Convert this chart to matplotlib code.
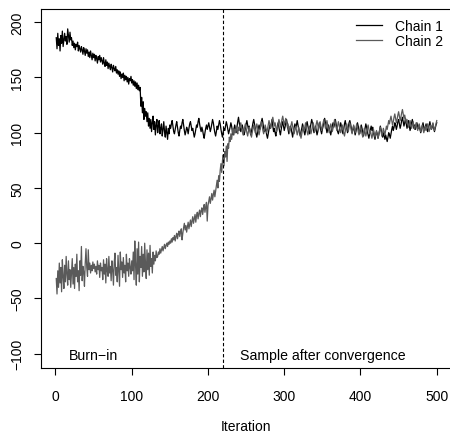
import numpy as np
import matplotlib
matplotlib.use("Agg")
import matplotlib.pyplot as plt

plt.rcParams["font.family"] = ["Liberation Sans", "DejaVu Sans"]

# trace values (iterations 1..500)
chain1 = [
    186, 176, 190, 179, 185, 174, 188, 181, 192, 178, 184, 190, 183, 187, 180, 194, 188, 182, 191, 184,
    186, 179, 183, 177, 181, 175, 180, 178, 182, 174, 179, 176, 173, 178, 175, 171, 177, 174, 170, 176,
    172, 175, 169, 173, 168, 174, 170, 166, 172, 168, 171, 165, 170, 167, 163, 169, 166, 170, 164, 168,
    165, 162, 168, 163, 160, 166, 161, 164, 158, 163, 160, 157, 162, 159, 155, 161, 158, 156, 160, 154,
    157, 153, 156, 151, 155, 149, 153, 150, 154, 147, 152, 148, 151, 146, 150, 144, 149, 147, 151, 145,
    148, 143, 147, 142, 146, 140, 145, 139, 143, 138, 141, 124, 132, 118, 128, 112, 122, 115, 119, 110,
    118, 106, 113, 104, 112, 101, 109, 115, 103, 110, 98, 107, 112, 100, 106, 111, 99, 104, 108, 97,
    103, 110, 101, 96, 106, 100, 94, 104, 99, 107,
    104, 108, 111, 106, 101, 99, 103, 107, 110, 105, 100, 97, 102, 106, 104, 109, 112, 107, 102, 98, 101, 105, 103, 99, 104,
    108, 110, 106, 102, 104, 100, 96, 99, 103, 107, 105, 110, 113, 108, 104, 101, 105, 102, 98, 95, 100, 104, 107, 103, 106,
    109, 105, 101, 104, 108, 112, 109, 104, 100, 97, 101, 106, 103, 107, 111, 108, 103, 99, 96, 101, 104, 102, 106, 110, 107,
    103, 99, 102, 105, 109, 106, 101, 98, 103, 107, 104, 100, 105, 110, 114, 109, 105, 101, 104, 107, 103, 98, 100, 104, 108,
    111, 107, 103, 106, 102, 98, 101, 105, 109, 112, 108, 104, 99, 96, 100, 104, 107, 103, 106, 110, 113, 109, 104, 101, 105,
    102, 98, 95, 99, 103, 107, 104, 108, 112, 106, 101, 104, 100, 97, 102, 106, 109, 105, 101, 98, 103, 107, 110, 106, 102,
    105, 109, 112, 108, 103, 99, 102, 106, 104, 100, 96, 101, 105, 108, 104, 107, 111, 107, 103, 100, 97, 101, 104, 108, 105,
    101, 98, 102, 107, 110, 106, 103, 99, 104, 108, 112, 109, 104, 100, 103, 106, 102, 98, 101, 105, 109, 106, 102, 99, 103,
    106, 110, 113, 109, 104, 100, 103, 107, 104, 101, 98, 102, 106, 109, 105, 108, 112, 108, 104, 101, 99, 102, 105, 109, 106,
    102, 99, 103, 108, 111, 107, 104, 100, 105, 109, 111, 108, 104, 100, 103, 106, 102, 98, 101, 105, 109, 106, 102, 99, 103,
    107, 104, 100, 97, 101, 104, 108, 105, 101, 98, 95, 99, 103, 106, 102, 105, 100, 97, 94, 98, 101, 99, 95, 98, 102,
    106, 103, 99, 96, 100, 97, 94, 98, 95, 92, 96, 100, 98, 95, 99, 103, 106, 102, 105, 109, 107, 103, 106, 110, 112,
    108, 104, 107, 111, 114, 110, 106, 109, 113, 108, 104, 107, 111, 106, 102, 105, 109, 112, 108, 104, 107, 103, 106, 109, 105,
    104, 107, 103, 100, 103, 106, 109, 105, 102, 105, 108, 104, 101, 104, 107, 110, 106, 103, 105, 108, 104, 101, 104, 107, 109,
]

chain2 = [
    -32, -46, -25, -40, -18, -36, -22, -44, -15, -30, -41, -20, -35, -12, -28, -38, -16, -33, -24, -40,
    -27, -14, -37, -22, -41, -19, -30, -10, -35, -25, -43, -16, -29, -3, -34, -21, -26, -39, -18, -5,
    -22, -30, -6, -24, -18, -27, -20, -25, -17, -23, -19, -26, -21, -28, -16, -24, -20, -31, -18, -25,
    -22, -33, -15, -28, -19, -36, -14, -25, -30, -12, -27, -21, -34, -16, -24, -38, -18, -9, -29, -22,
    -35, -11, -26, -39, -8, -24, -17, -31, -13, -27, -20, -35, -10, -25, -18, -30, -14, -22, -28, -16,
    -25, -8, -33, 2, -20, -38, -5, -28, 1, -35, -12, -22, -3, -30, -10, -26, 0, -18, -32, -6,
    -24, -9, -29, -2, -21, -14, -27, -8, -19, -11, -16, -7, -13,
    -12, -8, -10, -5, -9, -6, -3, -7, -4, -1, -5, -2, 0, -3, 1, -1, 2,
    0, 4, 1, 5, 3, 7, 2, 6, 9, 4, 8, 11, 6, 10, 13, 3, 9, 14, 18, 12,
    16, 10, 15, 19, 13, 17, 21, 15, 20, 24, 18, 22, 26, 19, 25, 28, 22, 27, 30, 24,
    29, 32, 26, 31, 35, 28, 33, 37, 20, 34, 38, 42, 36, 40, 45, 39, 44, 48, 42, 47,
    52, 57, 50, 61, 56, 66, 72, 64, 75, 80, 70, 83, 78, 88, 74,
    90, 86, 96, 92, 99, 94, 101, 104, 98, 103, 100, 106, 102, 99, 105,
    102, 106, 109, 105, 101, 98, 102, 105, 108, 104, 100, 97, 101, 105, 103, 99, 96, 100, 104, 107,
    103, 100, 104, 108, 105, 101, 98, 102, 106, 110, 106, 102, 99, 103, 107, 104, 100, 103, 107, 111,
    108, 104, 107, 111, 114, 110, 106, 109, 105, 101, 104, 108, 112, 109, 105, 108, 112, 115, 111, 107,
    110, 113, 109, 105, 108, 104, 100, 103, 107, 110, 106, 102, 99, 103, 106, 102, 98, 101, 105, 102,
    98, 95, 99, 103, 106, 102, 105, 109, 105, 101, 98, 102, 106, 103, 99, 102, 106, 109, 105, 101,
    104, 108, 111, 107, 103, 106, 110, 106, 102, 105, 109, 112, 108, 104, 107, 111, 107, 103, 100, 104,
    108, 105, 101, 104, 108, 112, 109, 105, 102, 106, 110, 107, 103, 100, 103, 107, 104, 100, 97, 101,
    105, 108, 104, 101, 105, 109, 106, 102, 99, 103, 107, 104, 100, 104, 108, 105, 101, 98, 102, 106,
    103, 99, 96, 100, 104, 101, 97, 100, 104, 107, 103, 99, 102, 98, 95, 99, 103, 100, 96, 99,
    102, 98, 95, 99, 102, 105, 101, 97, 100, 104, 101, 98, 102, 106, 103, 107, 111, 108, 112, 115,
    111, 107, 110, 114, 117, 113, 109, 112, 116, 119, 115, 111, 114, 118, 121, 117, 113, 116, 112, 109,
    112, 108, 105, 108, 111, 107, 104, 107, 110, 106, 103, 106, 109, 105, 102, 105, 108, 104, 101, 104,
    107, 103, 100, 103, 106, 102, 105, 108, 104, 101, 104, 107, 103, 106, 109, 105, 102, 105, 108, 111,
]

burn_in = 220
x_ticks = [0, 100, 200, 300, 400, 500]
y_ticks = [-100, -50, 0, 50, 100, 150, 200]

fig = plt.figure(figsize=(4.5, 4.35), dpi=100)
ax = fig.add_axes([41 / 450, 66 / 435, 411 / 450, 359 / 435])

ax.plot(np.arange(1, len(chain1) + 1), chain1, color="black", lw=0.9, label="Chain 1")
ax.plot(np.arange(1, len(chain2) + 1), chain2, color="#5a5a5a", lw=0.9, label="Chain 2")
ax.axvline(burn_in, color="black", lw=0.8, linestyle=(0, (3, 2)))

ax.text(50, -101, "Burn\u2212in", ha="center", va="center", fontsize=10.2)
ax.text(350, -101, "Sample after convergence", ha="center", va="center", fontsize=10.2)

ax.set_xlim(-19, 520)
ax.set_ylim(-113, 212)
ax.set_xticks(x_ticks)
ax.set_yticks(y_ticks)
ax.tick_params(direction="out", length=5, width=0.8, labelsize=10, pad=10)
ax.tick_params(axis="y", labelrotation=90, pad=7)
for lab in ax.get_yticklabels():
    lab.set_va("center")
ax.set_xlabel("Iteration", fontsize=10, labelpad=12)

for s in ax.spines.values():
    s.set_linewidth(0.8)

ax.legend(loc="upper right", frameon=False, fontsize=10, handlelength=1.9,
          handletextpad=0.9, labelspacing=0.1, borderaxespad=0.3,
          bbox_to_anchor=(1.002, 1.0))

fig.savefig("out.png", dpi=100)
